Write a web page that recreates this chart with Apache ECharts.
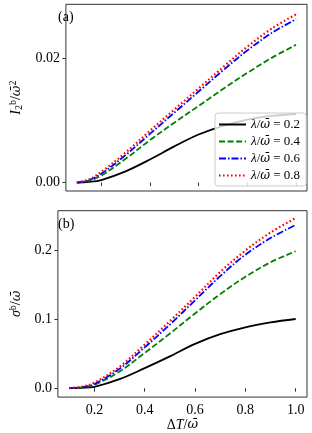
<!DOCTYPE html>
<html><head><meta charset="utf-8">
<script src="https://cdn.jsdelivr.net/npm/echarts@6/dist/echarts.min.js"></script>
<style>html,body{margin:0;padding:0;background:#fff}#c{width:312px;height:433px}</style>
</head><body><div id="c"></div>
<script>
var xVals = [0.1, 0.15, 0.2, 0.3, 0.4, 0.5, 0.6, 0.7, 0.8, 0.9, 1.0];
var lambdaLabels = ['0.2', '0.4', '0.6', '0.8'];
var topL02 = [0, 0.0001, 0.0004, 0.0018, 0.0037, 0.0058, 0.0077, 0.0091, 0.0101, 0.0107, 0.0110];
var topL04 = [0, 0.0003, 0.0011, 0.0038, 0.0068, 0.0096, 0.0123, 0.0150, 0.0176, 0.0200, 0.0221];
var topL06 = [0, 0.0004, 0.0014, 0.0044, 0.0078, 0.0112, 0.0146, 0.0180, 0.0212, 0.0240, 0.0262];
var topL08 = [0, 0.0005, 0.0017, 0.0048, 0.0083, 0.0117, 0.0151, 0.0185, 0.0218, 0.0247, 0.0270];
var botL02 = [0, 0.0005, 0.002, 0.013, 0.029, 0.046, 0.064, 0.078, 0.088, 0.095, 0.100];
var botL04 = [0, 0.001, 0.005, 0.024, 0.051, 0.079, 0.108, 0.136, 0.161, 0.182, 0.198];
var botL06 = [0, 0.0015, 0.006, 0.028, 0.059, 0.092, 0.127, 0.162, 0.193, 0.217, 0.236];
var botL08 = [0, 0.002, 0.008, 0.031, 0.063, 0.097, 0.132, 0.168, 0.199, 0.225, 0.246];
var xTicks = [0.2, 0.4, 0.6, 0.8, 1.0];
var xTickLabels = ['0.2', '0.4', '0.6', '0.8', '1.0'];
var topYTicks = [0, 0.02];
var topYTickLabels = ['0.00', '0.02'];
var botYTicks = [0, 0.1, 0.2];
var botYTickLabels = ['0.0', '0.1', '0.2'];

var FONT = '"Liberation Serif", "DejaVu Serif", serif';
var MFONT = '"DejaVu Serif", serif';
var colors = ['#000000', '#008000', '#0000ff', '#ff0000'];
var dashes = ['solid', [6, 2.6], [7, 2, 1.5, 2], [1.6, 2.4]];
var names = lambdaLabels.map(function (l) { return 'L=' + l; });
var topData = [topL02, topL04, topL06, topL08];
var botData = [botL02, botL04, botL06, botL08];

function pairs(arr) { return arr.map(function (v, i) { return [xVals[i], v]; }); }
function fmtFrom(ticks, labels) {
  return function (v) {
    for (var i = 0; i < ticks.length; i++) if (Math.abs(v - ticks[i]) < 1e-9) return labels[i];
    return '';
  };
}

var series = [];
[topData, botData].forEach(function (set, gi) {
  set.forEach(function (arr, k) {
    series.push({
      type: 'line', name: names[k], xAxisIndex: gi, yAxisIndex: gi,
      data: pairs(arr), smooth: 0.35, showSymbol: false, symbol: 'none',
      lineStyle: { color: colors[k], width: k === 3 ? 2.2 : 1.8, type: dashes[k], cap: 'butt' },
      itemStyle: { color: colors[k] }, z: 2 + k
    });
  });
});

var axisCommon = {
  type: 'value',
  axisLine: { show: false },
  splitLine: { show: false },
  axisTick: { show: true, inside: false, length: 3.5, lineStyle: { color: '#333', width: 1 } },
  axisLabel: { fontFamily: FONT, fontSize: 14, color: '#000' }
};
var nameRich = {
  i: { fontFamily: FONT, fontSize: 14, fontStyle: 'italic', color: '#000' },
  w: { fontFamily: MFONT, fontSize: 13, fontStyle: 'italic', color: '#000' },
  n: { fontFamily: FONT, fontSize: 14, color: '#000' },
  sub: { fontFamily: FONT, fontSize: 10, color: '#000', padding: [6, 0, 0, 0] },
  sup: { fontFamily: FONT, fontSize: 10, color: '#000', padding: [0, 0, 7, 0] }
};
function xAxis(gi, showLabels) {
  return Object.assign({}, axisCommon, {
    gridIndex: gi, min: 0.055, max: 1.045,
    axisTick: Object.assign({}, axisCommon.axisTick, { customValues: xTicks }),
    axisLabel: Object.assign({}, axisCommon.axisLabel, { show: showLabels, customValues: xTicks, formatter: fmtFrom(xTicks, xTickLabels), margin: 6 }),
    name: showLabels ? '{n|Δ}{i|T}{n|/}{w|ω̄}' : '',
    nameLocation: 'middle', nameGap: 18,
    nameTextStyle: { rich: nameRich }
  });
}
function yAxis(gi, min, max, ticks, labels, name) {
  return Object.assign({}, axisCommon, {
    gridIndex: gi, min: min, max: max,
    axisTick: Object.assign({}, axisCommon.axisTick, { customValues: ticks }),
    axisLabel: Object.assign({}, axisCommon.axisLabel, { customValues: ticks, formatter: fmtFrom(ticks, labels), margin: 6 }),
    name: name, nameLocation: 'middle', nameRotate: 90, nameGap: 30,
    nameTextStyle: { rich: nameRich }
  });
}

var chart = echarts.init(document.getElementById('c'), null, { renderer: 'canvas' });
chart.setOption({
  animation: false,
  backgroundColor: '#fff',
  grid: [
    { left: 50, top: 4.3, width: 257, height: 186.7, show: true, borderColor: '#333', borderWidth: 1, backgroundColor: 'transparent' },
    { left: 50, top: 210.7, width: 257, height: 186.6, show: true, borderColor: '#333', borderWidth: 1, backgroundColor: 'transparent' }
  ],
  xAxis: [xAxis(0, false), xAxis(1, true)],
  yAxis: [
    yAxis(0, -0.00136, 0.0286, topYTicks, topYTickLabels, '{i|I}{sub|2}{sup|b}{n|/}{w|ω̄}{sup|2}'),
    yAxis(1, -0.0129, 0.2566, botYTicks, botYTickLabels, '{i|σ}{sup|b}{n|/}{w|ω̄}')
  ],
  legend: [{
    show: true, orient: 'vertical', left: 215, top: 113, z: 10,
    data: names,
    itemWidth: 27, itemHeight: 12, itemGap: 4,
    padding: [5, 6, 4, 3],
    backgroundColor: 'rgba(255,255,255,0.8)', borderColor: '#cccccc', borderWidth: 1, borderRadius: 3,
    itemStyle: { opacity: 0 },
    formatter: function (n) { return '{i|λ}{n|/}{w|ω̄}{n| = ' + n.split('=')[1] + '}'; },
    textStyle: { rich: {
      i: { fontFamily: FONT, fontSize: 13, fontStyle: 'italic', color: '#000' },
      w: { fontFamily: MFONT, fontSize: 12, fontStyle: 'italic', color: '#000' },
      n: { fontFamily: FONT, fontSize: 13, color: '#000' }
    } },
    selectedMode: false
  }],
  graphic: [
    { type: 'text', left: 58, top: 10, style: { text: '(a)', font: '14px ' + FONT, fill: '#000' } },
    { type: 'text', left: 58, top: 217, style: { text: '(b)', font: '14px ' + FONT, fill: '#000' } }
  ],
  series: series
});
</script></body></html>
